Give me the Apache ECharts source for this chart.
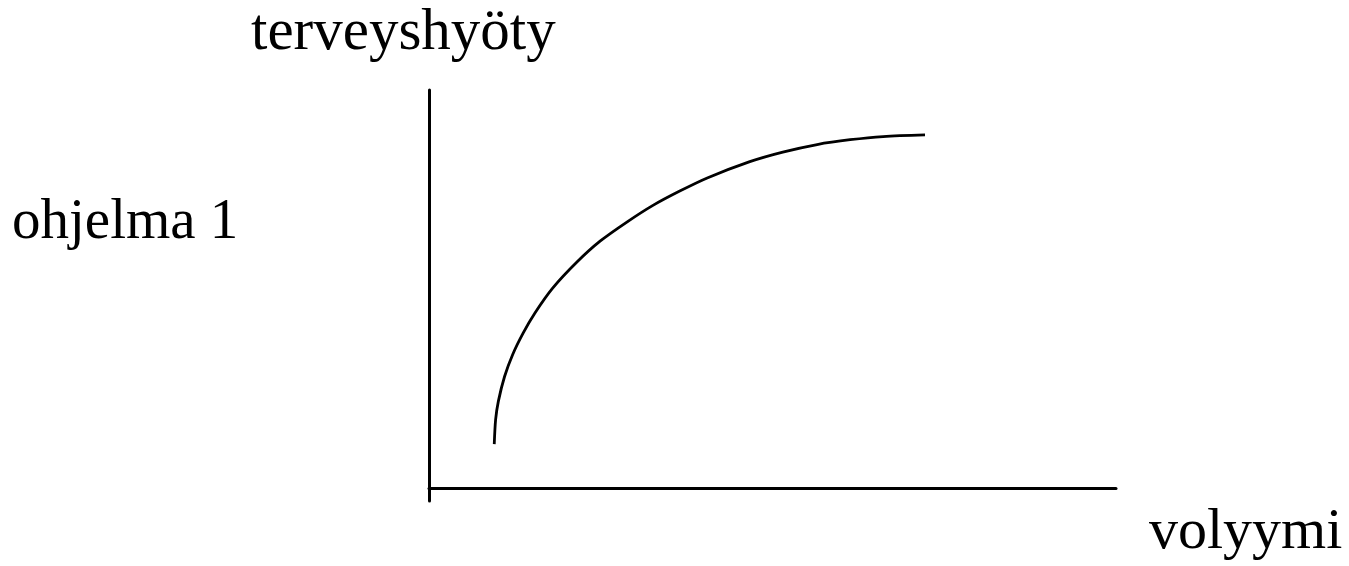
<!DOCTYPE html>
<html>
<head>
<meta charset="utf-8">
<script src="https://cdn.jsdelivr.net/npm/echarts@6/dist/echarts.min.js"></script>
<style>
html,body{margin:0;padding:0;background:#fff;}
#chart{width:1349px;height:566px;}
</style>
</head>
<body>
<div id="chart"></div>
<script>
// Curve (volyymi → terveyshyöty)
var volume = [9.5, 9.7, 10.1, 11.0, 12.2, 13.7, 15.4, 18.0, 21.5, 24.9, 28.8, 32.6, 36.5, 40.5, 46.7, 51.5, 56.5, 61.3, 66.1, 72.2];
var benefit = [11, 17.2, 21.8, 28, 33.6, 38.9, 43.9, 50.2, 56.7, 62, 66.8, 71, 74.6, 77.9, 82.0, 84.4, 86.3, 87.5, 88.3, 88.7];
var yAxisName = 'terveyshyöty';
var xAxisName = 'volyymi';
var programName = 'ohjelma 1';

var points = volume.map(function (v, i) { return [v, benefit[i]]; });
var font = '"Liberation Serif", "Times New Roman", serif';

var chart = echarts.init(document.getElementById('chart'), null, {renderer: 'canvas'});
chart.setOption({
  animation: false,
  backgroundColor: '#ffffff',
  grid: {left: 429, right: 233, top: 90, bottom: 65},
  xAxis: {
    type: 'value', min: 0, max: 100,
    axisLine: {show: true, onZero: true, lineStyle: {color: '#000', width: 3}},
    axisTick: {show: false}, axisLabel: {show: false}, splitLine: {show: false}
  },
  yAxis: {
    type: 'value', min: -3.3, max: 100,
    axisLine: {show: true, lineStyle: {color: '#000', width: 3}},
    axisTick: {show: false}, axisLabel: {show: false}, splitLine: {show: false}
  },
  series: [{
    type: 'line',
    data: points,
    smooth: 0.3,
    showSymbol: false,
    lineStyle: {color: '#000', width: 2.8}
  }],
  graphic: [
    {type: 'text', x: 251, y: 33, style: {text: yAxisName, font: '59px ' + font, fill: '#000', textVerticalAlign: 'middle'}},
    {type: 'text', x: 12, y: 223, style: {text: programName, font: '57px ' + font, fill: '#000', textVerticalAlign: 'middle'}},
    {type: 'text', x: 1149, y: 533, style: {text: xAxisName, font: '58px ' + font, fill: '#000', textVerticalAlign: 'middle'}}
  ]
});
</script>
</body>
</html>
